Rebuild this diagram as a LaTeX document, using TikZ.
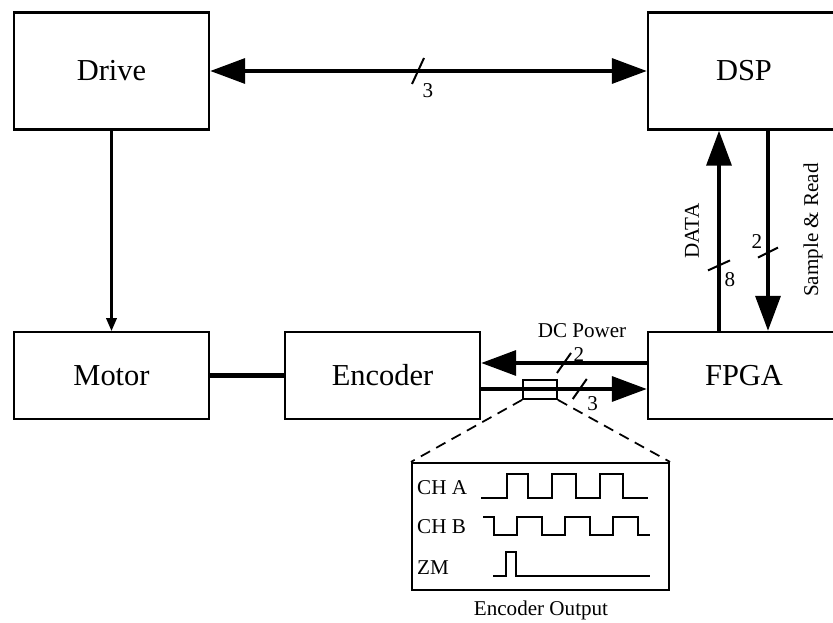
\documentclass[tikz,border=0pt]{standalone}
\usepackage{fontspec}
\setmainfont{Liberation Serif}
\usetikzlibrary{arrows.meta,positioning,calc}
\tikzset{bigtip/.tip={Triangle[length=30pt,width=21pt]},
  smalltip/.tip={Triangle[length=11pt,width=9pt]}}

\begin{document}
\begin{tikzpicture}[x=0.03cm,y=-0.03cm,
  blk/.style={draw,line width=1.8pt,minimum width=5.85cm,minimum height=3.51cm,
    inner sep=0pt,font=\fontsize{26}{30}\selectfont},
  lowblk/.style={blk,minimum height=2.61cm},
  lbl/.style={inner sep=0pt,font=\fontsize{18}{21}\selectfont},
  bigarr/.style={line width=4pt,-bigtip},
  tick/.style={line width=1.7pt},
  wave/.style={line width=1.5pt}]
  \useasboundingbox (0,0) rectangle (833,623);
  \clip (0,0) rectangle (833,623);
  \node[blk] (drive) at (111.5,71) {Drive};
  \node[blk,minimum width=5.76cm] (dsp) at (744,71) {DSP};
  \node[lowblk] (motor) at (111.5,375.5) {Motor};
  \node[lowblk] (enc) at (382.5,375.5) {Encoder};
  \node[lowblk,minimum width=5.76cm] (fpga) at (744,375.5) {FPGA};

  \draw[line width=4pt,bigtip-bigtip] (drive) -- coordinate[pos=0.476] (t1) (dsp);
  \draw[tick] (t1) ++(-6,13) -- ++(12,-26);
  \node[lbl] (n1) at ($(t1)+(10,20)$) {3};

  \draw[line width=1.8pt,-smalltip] (drive) -- (motor);
  \draw[line width=4pt] (motor) -- (enc);

  \draw[bigarr] ($(fpga.north)+(-25,0)$) -- coordinate[pos=0.327] (t2) ($(dsp.south)+(-25,0)$);
  \draw[tick] (t2) ++(-11,5) -- ++(22,-10);
  \node[lbl] (n2) at ($(t2)+(11,14)$) {8};
  \node[lbl,rotate=90] (data) at (692,231) {DATA};
  \draw[bigarr] ($(dsp.south)+(24,0)$) -- coordinate[pos=0.609] (t3) ($(fpga.north)+(24,0)$);
  \draw[tick] (t3) ++(-10,5) -- ++(20,-10);
  \node[lbl] (n3) at ($(t3)+(-11,-11)$) {2};
  \node[lbl,rotate=90] (smp) at (813,230) {Sample \& Read};

  \draw[bigarr] ($(fpga.west)+(0,-12.5)$) -- coordinate[pos=0.5] (t4) ($(enc.east)+(0,-12.5)$);
  \draw[tick] (t4) ++(-7,10) -- ++(14,-20);
  \node[lbl] (n4) at ($(t4)+(15,-8)$) {2};
  \node[lbl] (dc) at (582,331) {DC Power};
  \draw[bigarr] ($(enc.east)+(0,13.5)$) -- coordinate[pos=0.595] (t5) ($(fpga.west)+(0,13.5)$);
  \draw[tick] (t5) ++(-7,10) -- ++(14,-20);
  \node[lbl] (n5) at ($(t5)+(13,15)$) {3};

  \node[draw,line width=1.5pt,minimum width=1.02cm,minimum height=0.57cm,inner sep=0pt] (tap) at (540,389.5) {};
  \node[draw,line width=1.8pt,minimum width=7.71cm,minimum height=3.81cm,inner sep=0pt] (out) at (540.5,526.5) {};
  \draw[line width=1.5pt,dash pattern=on 9pt off 6pt] (tap.south west) -- (out.north west);
  \draw[line width=1.5pt,dash pattern=on 9pt off 6pt] (tap.south east) -- (out.north east);
  \node[lbl] (cap) at (541,610) {Encoder Output};

  \node[lbl,anchor=west] (cha) at (417,488) {CH A};
  \node[lbl,anchor=west] (chb) at (417,527) {CH B};
  \node[lbl,anchor=west] (zm) at (417,568) {ZM};
  \draw[wave] (481,498) -| (507,474) -| (528,498) -| (552,474) -| (576,498) -| (600,474) -| (623,498) -- (648,498);
  \draw[wave] (483,517) -| (494,535) -| (517,517) -| (542,535) -| (565,517) -| (590,535) -| (613,517) -| (638,535) -- (650,535);
  \draw[wave] (493,576) -| (506,552) -| (516,576) -- (650,576);
\end{tikzpicture}
\end{document}
